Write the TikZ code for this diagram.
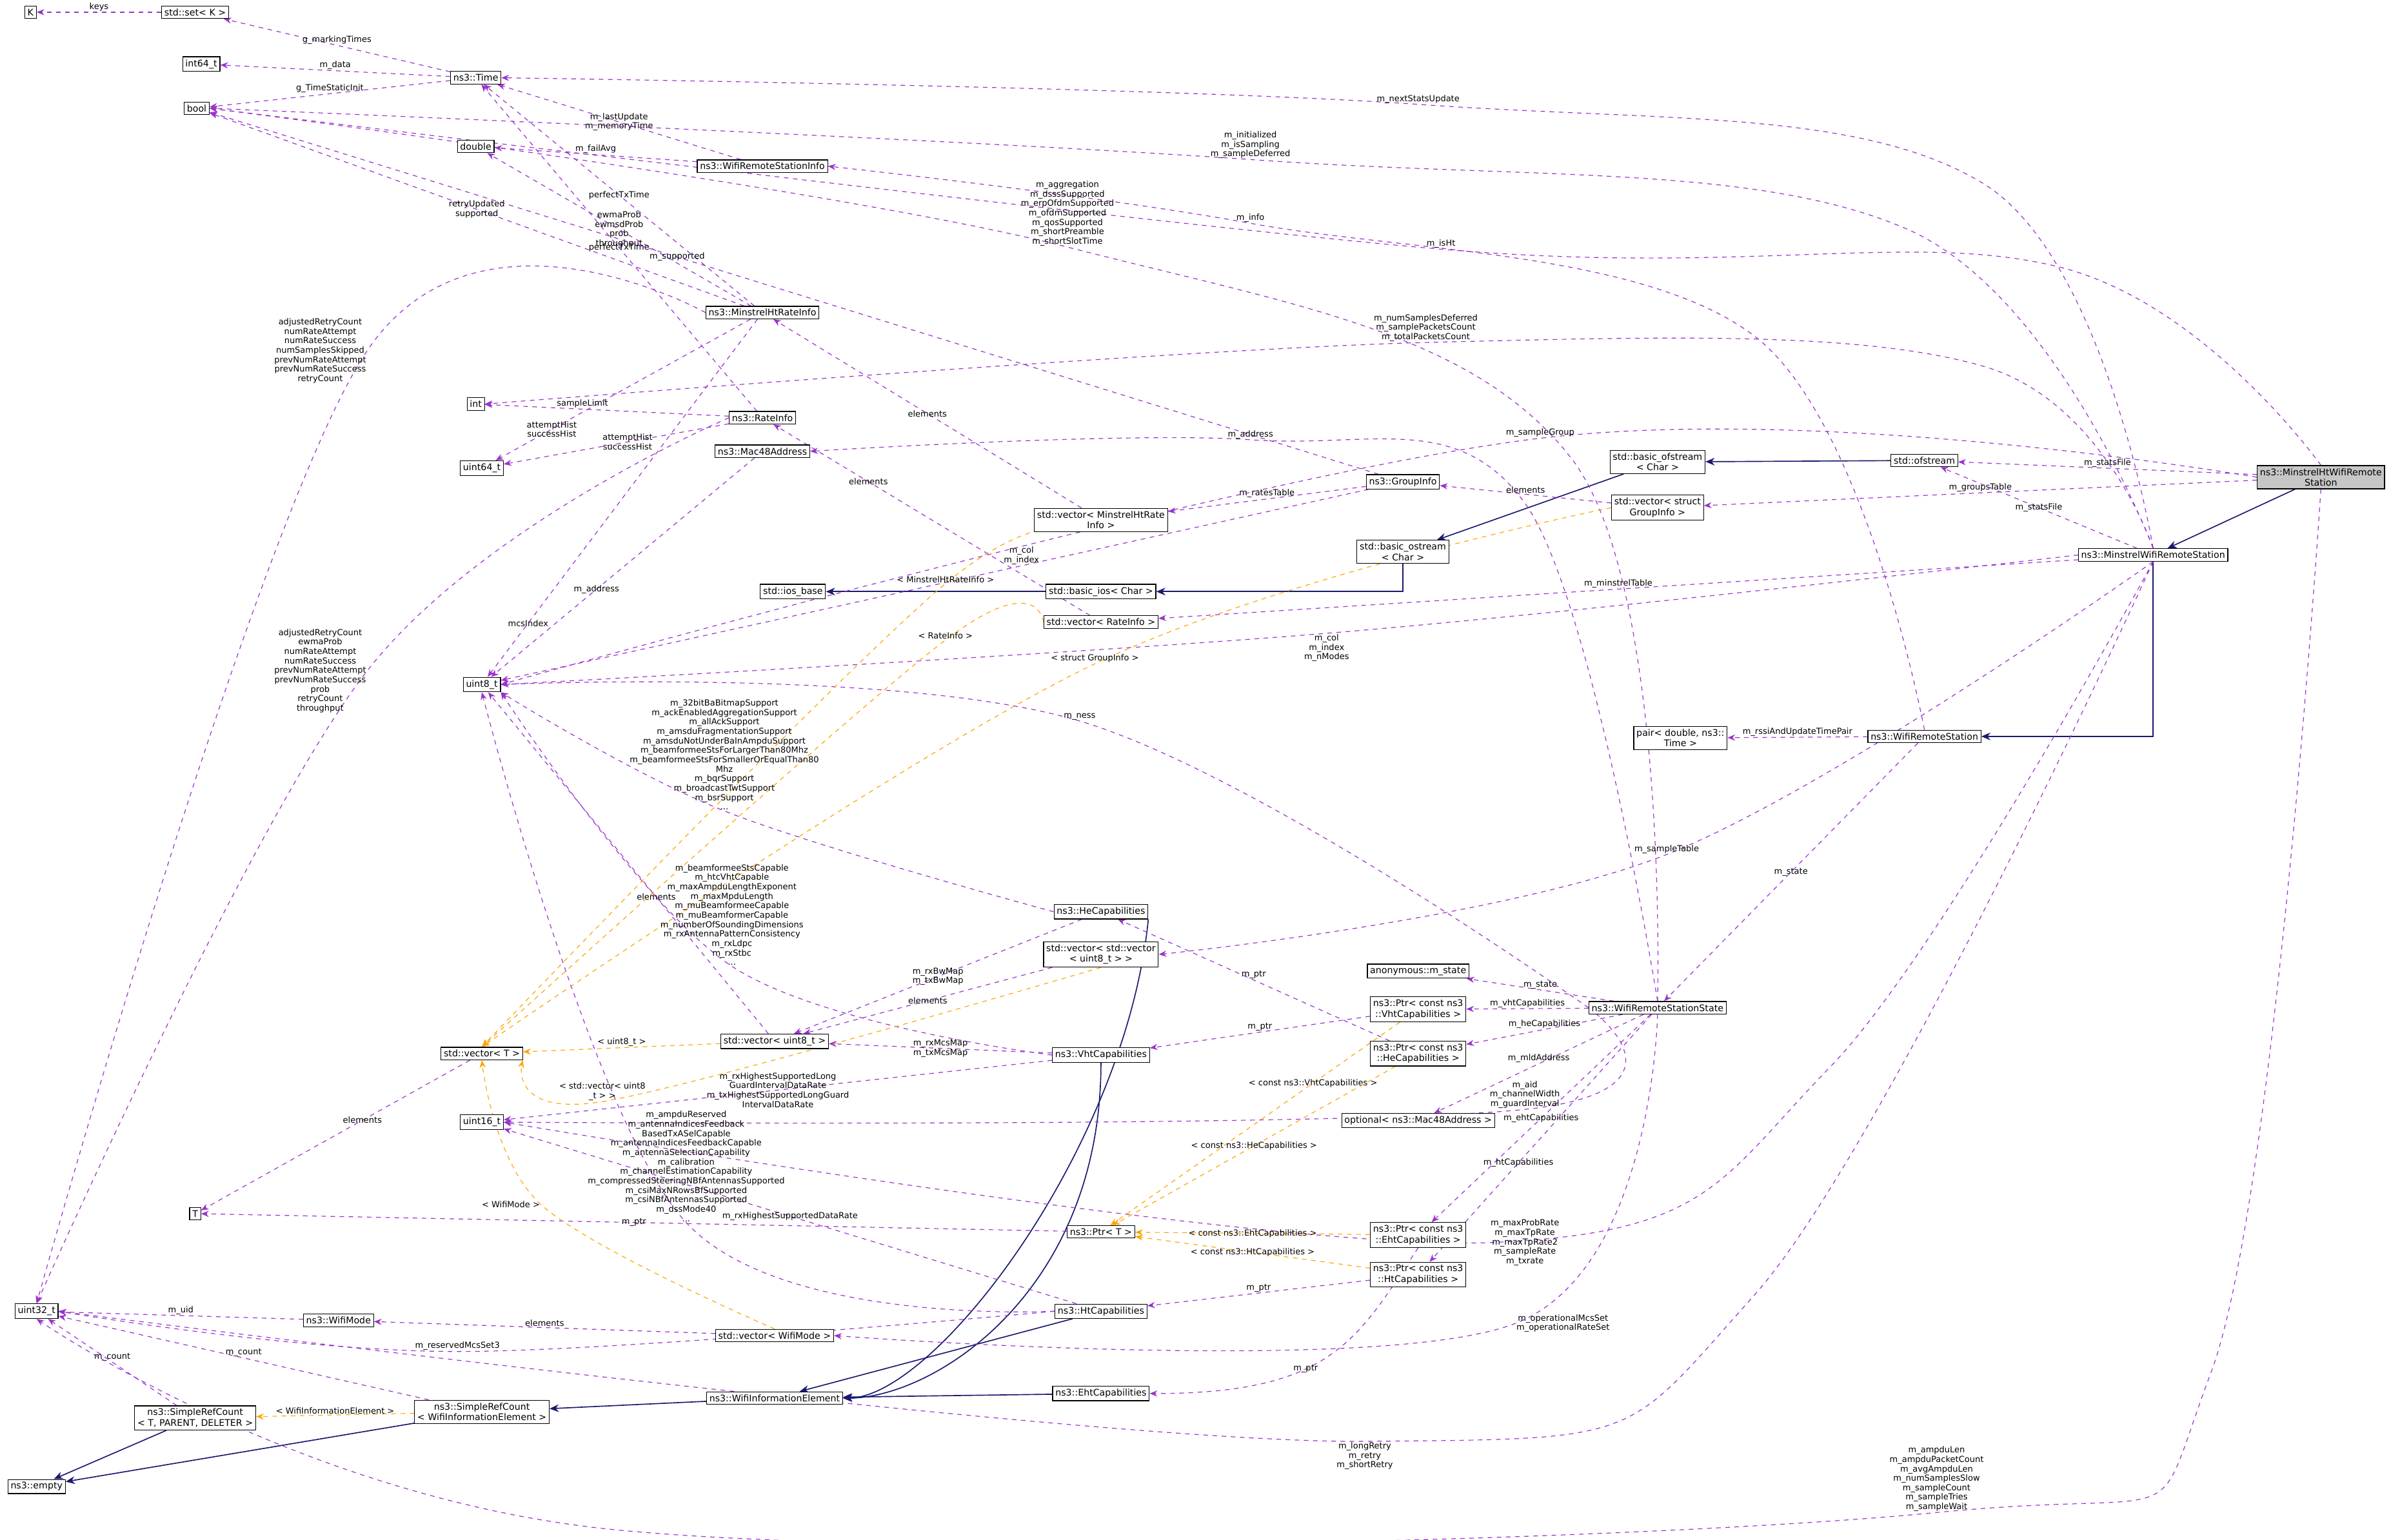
\documentclass[tikz,border=0pt]{standalone}
\usepackage{fontspec}
\setmainfont{DejaVu Sans}
\usetikzlibrary{arrows.meta}
\definecolor{pur}{HTML}{9A32CD}
\definecolor{org}{HTML}{FFA500}
\definecolor{mblue}{HTML}{191970}
\pgfdeclarelayer{bg}
\pgfsetlayers{bg,main}
\begin{document}
\begin{tikzpicture}[x=1pt,y=-1pt,
 box/.style={draw=black,fill=white,inner sep=1.8pt,align=center,font=\fontsize{6}{7}\selectfont,line width=0.5pt},
 mem/.style={draw=pur,dashed,line width=0.5pt,-{Stealth[length=5pt,width=4pt]}},
 tpl/.style={draw=org,dashed,line width=0.5pt,-{Stealth[length=5pt,width=4pt]}},
 inh/.style={draw=mblue,line width=0.7pt,-{Stealth[length=6pt,width=5pt,open,fill=mblue]}},
 sm/.style={smooth,tension=0.6},
 lab/.style={font=\fontsize{5.5}{6.2}\selectfont,align=center,inner sep=0.5pt,text=black}]
\useasboundingbox (0,0) rectangle (1568,1010);
% nodes
\node[box] (K) at (20,8) {K};
\node[box] (setK) at (128,8) {std::set< K >};
\node[box] (i64) at (132,42) {int64\_t};
\node[box] (time) at (312,51) {ns3::Time};
\node[box] (bool) at (129,71) {bool};
\node[box] (dbl) at (312,96) {double};
\node[box] (wrsi) at (500,109) {ns3::WifiRemoteStationInfo};
\node[box] (mhri) at (500,205) {ns3::MinstrelHtRateInfo};
\node[box] (int) at (312,265) {int};
\node[box] (ri) at (500,274) {ns3::RateInfo};
\node[box] (u64) at (316,307) {uint64\_t};
\node[box] (mac) at (500,296) {ns3::Mac48Address};
\node[box] (gi) at (920,316) {ns3::GroupInfo};
\node[box] (vmhri) at (722,341) {std::vector< MinstrelHtRate\\Info >};
\node[box] (bofs) at (1087,303) {std::basic\_ofstream\\< Char >};
\node[box] (ofs) at (1262,302) {std::ofstream};
\node[box,fill=gray!45] (mhwrs) at (1522,313) {ns3::MinstrelHtWifiRemote\\Station};
\node[box] (vgi) at (1087,333) {std::vector< struct\\GroupInfo >};
\node[box] (bos) at (920,362) {std::basic\_ostream\\< Char >};
\node[box] (mwrs) at (1412,364) {ns3::MinstrelWifiRemoteStation};
\node[box] (iosb) at (520,388) {std::ios\_base};
\node[box] (bios) at (722,388) {std::basic\_ios< Char >};
\node[box] (vri) at (722,408) {std::vector< RateInfo >};
\node[box] (u8) at (316,449) {uint8\_t};
\node[box] (pair) at (1102,484) {pair< double, ns3::\\Time >};
\node[box] (wrs) at (1262,483) {ns3::WifiRemoteStation};
\node[box] (hec) at (722,598) {ns3::HeCapabilities};
\node[box] (vvu8) at (722,626) {std::vector< std::vector\\< uint8\_t > >};
\node[box] (anon) at (930,637) {anonymous::m\_state};
\node[box] (wrss) at (1087,661) {ns3::WifiRemoteStationState};
\node[box] (pvht) at (930,662) {ns3::Ptr< const ns3\\::VhtCapabilities >};
\node[box] (vT) at (316,691) {std::vector< T >};
\node[box] (vu8) at (508,683) {std::vector< uint8\_t >};
\node[box] (vht) at (722,692) {ns3::VhtCapabilities};
\node[box] (phe) at (930,691) {ns3::Ptr< const ns3\\::HeCapabilities >};
\node[box] (u16) at (316,736) {uint16\_t};
\node[box] (opt) at (930,735) {optional< ns3::Mac48Address >};
\node[box] (T) at (128,796) {T};
\node[box] (pT) at (722,808) {ns3::Ptr< T >};
\node[box] (peht) at (930,810) {ns3::Ptr< const ns3\\::EhtCapabilities >};
\node[box] (pht) at (930,836) {ns3::Ptr< const ns3\\::HtCapabilities >};
\node[box] (wm) at (222,866) {ns3::WifiMode};
\node[box] (vwm) at (508,876) {std::vector< WifiMode >};
\node[box] (htc) at (722,860) {ns3::HtCapabilities};
\node[box] (u32) at (24,860) {uint32\_t};
\node[box] (srcT) at (128,930) {ns3::SimpleRefCount\\< T, PARENT, DELETER >};
\node[box] (srcW) at (316,926) {ns3::SimpleRefCount\\< WifiInformationElement >};
\node[box] (wie) at (508,917) {ns3::WifiInformationElement};
\node[box] (ehtc) at (722,914) {ns3::EhtCapabilities};
\node[box] (empty) at (24,975) {ns3::empty};
% long-edge labels
\node[lab] (Lisht) at (945,160) {m\_isHt};
\node[lab] (Lnext) at (930,65) {m\_nextStatsUpdate};
\node[lab] (Linit) at (820,95) {m\_initialized\\m\_isSampling\\m\_sampleDeferred};
\node[lab] (Linfo) at (820,143) {m\_info};
\node[lab] (Lagg) at (700,140) {m\_aggregation\\m\_dsssSupported\\m\_erpOfdmSupported\\m\_ofdmSupported\\m\_qosSupported\\m\_shortPreamble\\m\_shortSlotTime};
\node[lab] (Lnum) at (935,215) {m\_numSamplesDeferred\\m\_samplePacketsCount\\m\_totalPacketsCount};
\node[lab] (Lsg) at (1010,284) {m\_sampleGroup};
\node[lab] (Laddr) at (820,285) {m\_address};
\node[lab] (Lcol) at (870,425) {m\_col\\m\_index\\m\_nModes};
\node[lab] (Lness) at (708,470) {m\_ness};
\node[lab] (Lst) at (1093,557) {m\_sampleTable};
\node[lab] (Lmax) at (1000,815) {m\_maxProbRate\\m\_maxTpRate\\m\_maxTpRate2\\m\_sampleRate\\m\_txrate};
\node[lab] (Llong) at (895,955) {m\_longRetry\\m\_retry\\m\_shortRetry};
\node[lab] (Lampdu) at (1270,970) {m\_ampduLen\\m\_ampduPacketCount\\m\_avgAmpduLen\\m\_numSamplesSlow\\m\_sampleCount\\m\_sampleTries\\m\_sampleWait};
\node[lab] (Lop) at (1025,868) {m\_operationalMcsSet\\m\_operationalRateSet};
\node[lab] (Laid) at (1000,718) {m\_aid\\m\_channelWidth\\m\_guardInterval};
\node[lab] (Lr1) at (210,230) {adjustedRetryCount\\numRateAttempt\\numRateSuccess\\numSamplesSkipped\\prevNumRateAttempt\\prevNumRateSuccess\\retryCount};
\node[lab] (Lr2) at (210,440) {adjustedRetryCount\\ewmaProb\\numRateAttempt\\numRateSuccess\\prevNumRateAttempt\\prevNumRateSuccess\\prob\\retryCount\\throughput};
\node[lab] (Lhe) at (475,495) {m\_32bitBaBitmapSupport\\m\_ackEnabledAggregationSupport\\m\_allAckSupport\\m\_amsduFragmentationSupport\\m\_amsduNotUnderBaInAmpduSupport\\m\_beamformeeStsForLargerThan80Mhz\\m\_beamformeeStsForSmallerOrEqualThan80\\Mhz\\m\_bqrSupport\\m\_broadcastTwtSupport\\m\_bsrSupport\\...};
\node[lab] (Lvht) at (480,600) {m\_beamformeeStsCapable\\m\_htcVhtCapable\\m\_maxAmpduLengthExponent\\m\_maxMpduLength\\m\_muBeamformeeCapable\\m\_muBeamformerCapable\\m\_numberOfSoundingDimensions\\m\_rxAntennaPatternConsistency\\m\_rxLdpc\\m\_rxStbc\\...};
\node[lab] (Lht) at (450,765) {m\_ampduReserved\\m\_antennaIndicesFeedback\\BasedTxASelCapable\\m\_antennaIndicesFeedbackCapable\\m\_antennaSelectionCapability\\m\_calibration\\m\_channelEstimationCapability\\m\_compressedSteeringNBfAntennasSupported\\m\_csiMaxNRowsBfSupported\\m\_csiNBfAntennasSupported\\m\_dssMode40\\...};
\node[lab] (Lres) at (300,883) {m\_reservedMcsSet3};
\node[lab] (Lgi) at (718,432) {< struct GroupInfo >};
\node[lab] (Lvv) at (395,716) {< std::vector< uint8\\\_t > >};
\node[lab] (Lmh) at (620,380) {< MinstrelHtRateInfo >};
\node[lab] (Lri) at (620,417) {< RateInfo >};
\node[lab] (Lwm) at (335,790) {< WifiMode >};
\begin{pgfonlayer}{bg}
% inheritance
\draw[inh] (mhwrs) -- (mwrs);
\draw[inh] (mwrs) |- (wrs);
\draw[inh] (ofs) -- (bofs);
\draw[inh] (bofs) -- (bos);
\draw[inh] (bos) |- (bios);
\draw[inh] (bios) -- (iosb);
\draw[inh] (hec.south east) .. controls +(-15,150) and +(60,0) .. (wie.east);
\draw[inh] (vht.south) .. controls +(0,150) and +(60,0) .. (wie.east);
\draw[inh] (htc) -- (wie);
\draw[inh] (ehtc) -- (wie);
\draw[inh] (wie) -- (srcW);
\draw[inh] (srcW) -- (empty);
\draw[inh] (srcT) -- (empty);
% members, short
\draw[mem] (setK) -- node[lab,above]{keys} (K);
\draw[mem] (time) -- node[lab,above]{m\_data} (i64);
\draw[mem] (time) -- node[lab,above]{g\_TimeStaticInit} (bool);
\draw[mem] (time) -- node[lab,above]{g\_markingTimes} (setK);
\draw[mem] (wrsi) -- node[lab]{m\_lastUpdate\\m\_memoryTime} (time);
\draw[mem] (wrsi) -- node[lab,above]{m\_failAvg} (dbl);
\draw[mem] (mhri) -- node[lab,at={(428,138)}]{ewmaProb\\ewmsdProb\\prob\\throughput} (dbl);
\draw[mem] (mhri) -- node[lab,at={(397,112)}]{perfectTxTime} (time);
\draw[mem] (mhri) -- node[lab,at={(380,176)}]{retryUpdated\\supported} (bool);
\draw[mem] (mhri) -- node[lab,pos=0.78]{attemptHist\\successHist} (u64);
\draw[mem] (ri) -- node[lab,at={(397,198)}]{perfectTxTime} (time);
\draw[mem] (ri) -- node[lab,above,pos=0.6]{sampleLimit} (int);
\draw[mem] (ri) -- node[lab,pos=0.45]{attemptHist\\successHist} (u64);
\draw[mem] (mac) -- node[lab,pos=0.6]{m\_address} (u8);
\draw[mem] (mhri) -- node[lab,pos=0.85]{mcsIndex} (u8);
\draw[mem] (gi) -- node[lab,above,pos=0.4]{m\_col\\m\_index} (u8);
\draw[mem] (gi) -- node[lab,pos=0.6]{m\_supported} (bool);
\draw[mem] (gi) -- node[lab,above]{m\_ratesTable} (vmhri);
\draw[mem] (vmhri) -- node[lab]{elements} (mhri);
\draw[mem] (vri) -- node[lab,pos=0.7]{elements} (ri);
\draw[mem] (vgi) -- node[lab,above]{elements} (gi);
\draw[mem] (mhwrs) -- node[lab,above]{m\_statsFile} (ofs);
\draw[mem] (mhwrs) -- node[lab,above]{m\_groupsTable} (vgi);
\draw[mem] (mwrs) -- node[lab]{m\_statsFile} (ofs);
\draw[mem] (mwrs) -- node[lab,above]{m\_minstrelTable} (vri);
\draw[mem] (wrs) -- node[lab,above]{m\_rssiAndUpdateTimePair} (pair);
\draw[mem] (wrs) -- node[lab]{m\_state} (wrss);
\draw[mem] (wrss) -- node[lab,above]{m\_state} (anon);
\draw[mem] (wrss) -- node[lab,above]{m\_vhtCapabilities} (pvht);
\draw[mem] (wrss) -- node[lab,above]{m\_heCapabilities} (phe);
\draw[mem] (wrss) -- node[lab,above]{m\_mldAddress} (opt);
\draw[mem] (wrss) -- node[lab,at={(990,765)}]{m\_ehtCapabilities} (peht);
\draw[mem] (wrss) -- node[lab,pos=0.6]{m\_htCapabilities} (pht);
\draw[mem] (pvht) -- node[lab,above]{m\_ptr} (vht);
\draw[mem] (phe) -- node[lab,above]{m\_ptr} (hec);
\draw[mem] (peht.south) .. controls +(-40,60) and +(120,0) .. (ehtc.east) node[lab,pos=0.6]{m\_ptr};
\draw[mem] (pht) -- node[lab,above]{m\_ptr} (htc);
\draw[mem] (pT) -- node[lab,at={(250,792)}]{m\_ptr} (T);
\draw[mem] (hec) -- node[lab,at={(622,587)}]{m\_rxBwMap\\m\_txBwMap} (vu8);
\draw[mem] (vvu8) -- node[lab,at={(622,640)}]{elements} (vu8);
\draw[mem] (vu8) -- node[lab,pos=0.4]{elements} (u8);
\draw[mem] (vht) -- node[lab,at={(622,681)}]{m\_rxMcsMap\\m\_txMcsMap} (vu8);
\draw[mem] (vht) -- node[lab,at={(610,715)}]{m\_rxHighestSupportedLong\\GuardIntervalDataRate\\m\_txHighestSupportedLongGuard\\IntervalDataRate} (u16);
\draw[mem] (htc) -- node[lab,at={(625,826)}]{m\_rxHighestSupportedDataRate} (u16);
\draw[mem] (vwm) -- node[lab,above]{elements} (wm);
\draw[mem] (wm) -- node[lab,above]{m\_uid} (u32);
\draw[mem] (vT) -- node[lab,pos=0.4]{elements} (T);
\draw[mem] (srcW) -- node[lab,above]{m\_count} (u32);
\draw[mem] (srcT) -- node[lab,above]{m\_count} (u32);
% members, long (through their labels)
\draw[mem] plot[sm] coordinates {(mhwrs.north) (1350,175) (Lisht.south) (bool.east)};
\draw[mem] plot[sm] coordinates {(mwrs.north) (1300,120) (Lnext.south) (time.east)};
\draw[mem] plot[sm] coordinates {(mwrs.north) (1250,150) (Linit.south) (bool.east)};
\draw[mem] plot[sm] coordinates {(wrs.north) (1150,220) (Linfo.south) (wrsi.east)};
\draw[mem] plot[sm] coordinates {(wrss.north) (1030,300) (Lagg.south) (bool.east)};
\draw[mem] plot[sm] coordinates {(mwrs.north) (1300,240) (Lnum.south) (int.east)};
\draw[mem] plot[sm] coordinates {(mhwrs.west) (Lsg.south) (u8.east)};
\draw[mem] plot[sm] coordinates {(wrss.north) (1000,330) (Laddr.south) (mac.east)};
\draw[mem] plot[sm] coordinates {(mwrs.west) (Lcol.north) (u8.east)};
\draw[mem] plot[sm] coordinates {(wrss.west) (Lness.south) (u8.east)};
\draw[mem] plot[sm] coordinates {(mwrs.south) (Lst.south) (vvu8.east)};
\draw[mem] plot[sm] coordinates {(mwrs.south) (1200,700) (Lmax.west) (u16.east)};
\draw[mem] plot[sm] coordinates {(mwrs.south) (1150,850) (Llong.north) (u32.east)};
\draw[mem] plot[sm] coordinates {(mhwrs.south) (1450,900) (Lampdu.south) (400,1003) (u32.south)};
\draw[mem] plot[sm] coordinates {(wrss.south) (Lop.west) (vwm.east)};
\draw[mem] plot[sm] coordinates {(wrss.west) (Laid.south) (u16.east)};
\draw[mem] plot[sm] coordinates {(mhri.west) (Lr1.east) (u32.north)};
\draw[mem] plot[sm] coordinates {(ri.west) (Lr2.east) (u32.north)};
\draw[mem] plot[sm] coordinates {(hec.west) (Lhe.south) (u8.south east)};
\draw[mem] plot[sm] coordinates {(vht.west) (Lvht.south) (u8.south east)};
\draw[mem] plot[sm] coordinates {(htc.west) (Lht.south) (u8.south)};
\draw[mem] plot[sm] coordinates {(htc.west) (Lres.south) (u32.east)};
% templates
\draw[tpl] plot[sm] coordinates {(vmhri.south) (Lmh.south) (vT.north)};
\draw[tpl] plot[sm] coordinates {(vri.west) (Lri.south) (vT.north)};
\draw[tpl] plot[sm] coordinates {(vgi.west) (Lgi.south) (vT.north)};
\draw[tpl] (vu8) -- node[lab,above]{< uint8\_t >} (vT);
\draw[tpl] plot[sm] coordinates {(vvu8.south) (Lvv.south) (vT.south east)};
\draw[tpl] plot[sm] coordinates {(vwm.north) (Lwm.east) (vT.south)};
\draw[tpl] (pvht) -- node[lab,pos=0.3]{< const ns3::VhtCapabilities >} (pT);
\draw[tpl] (phe) -- node[lab,at={(830,772)}]{< const ns3::HeCapabilities >} (pT);
\draw[tpl] (peht) -- node[lab,at={(830,805)}]{< const ns3::EhtCapabilities >} (pT);
\draw[tpl] (pht) -- node[lab,at={(830,822)}]{< const ns3::HtCapabilities >} (pT);
\draw[tpl] (srcW) -- node[lab,above]{< WifiInformationElement >} (srcT);
\end{pgfonlayer}
\end{tikzpicture}
\end{document}
